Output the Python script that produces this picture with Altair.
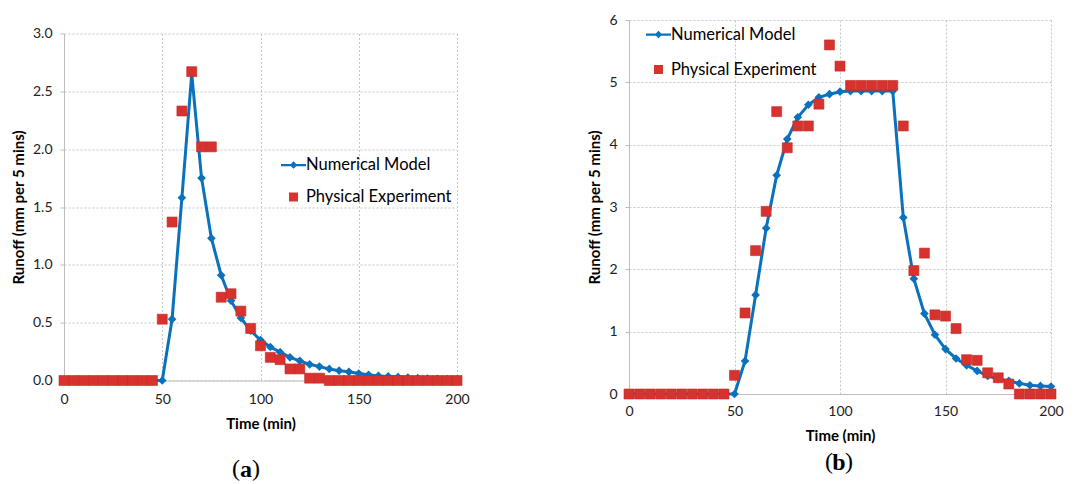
import altair as alt
import pandas as pd

# ---------------- data ----------------
time_min = list(range(0, 205, 5))

model_a = [0] * 11 + [0.53, 1.58, 2.65, 1.75, 1.23, 0.91, 0.69, 0.54, 0.43, 0.35,
                      0.29, 0.245, 0.20, 0.17, 0.14, 0.12, 0.10, 0.085, 0.075, 0.06,
                      0.05, 0.04, 0.035, 0.03, 0.025, 0.02, 0.017, 0.015, 0.012, 0.01]
exp_a = [0] * 10 + [0.53, 1.37, 2.33, 2.67, 2.02, 2.02, 0.72, 0.75, 0.60, 0.45,
                    0.30, 0.20, 0.18, 0.10, 0.10, 0.02, 0.02] + [0] * 14

model_b = [0] * 11 + [0.53, 1.59, 2.66, 3.51, 4.09, 4.44, 4.64, 4.76, 4.81, 4.85,
                      4.86, 4.86, 4.86, 4.86, 4.86, 2.83, 1.85, 1.29, 0.95, 0.72,
                      0.57, 0.46, 0.37, 0.29, 0.24, 0.21, 0.17, 0.14, 0.13, 0.12]
exp_b = [0] * 10 + [0.30, 1.30, 2.30, 2.93, 4.53, 3.95, 4.30, 4.30, 4.65, 5.60,
                    5.26, 4.95, 4.95, 4.95, 4.95, 4.95, 4.30, 1.98, 2.26, 1.27,
                    1.25, 1.05, 0.55, 0.54, 0.34, 0.26, 0.16] + [0] * 4

series_names = ["Numerical Model", "Physical Experiment"]
x_ticks = [0, 50, 100, 150, 200]
y_ticks_a = [0, 0.5, 1.0, 1.5, 2.0, 2.5, 3.0]
y_ticks_b = [0, 1, 2, 3, 4, 5, 6]
captions = ["a", "b"]

BLUE = "#0a72bd"
RED = "#d8322e"
FONT = "Lato"

# legend symbol: line with diamond, and a smaller square, in unit box
LINE_DIAMOND = "M-1,-0.09L1,-0.09L1,0.09L-1,0.09Z M0,-0.3L0.3,0L0,0.3L-0.3,0Z"
SMALL_SQUARE = "M-0.36,-0.36L0.36,-0.36L0.36,0.36L-0.36,0.36Z"


def panel(model, exp, y_ticks, y_fmt, w, h, leg_x, leg_y, leg_row, cap, cap_x, cap_y,
          x_lab_pad, x_title_pad, y_title_pad):
    dm = pd.DataFrame({"Time": time_min, "Runoff": model})
    de = pd.DataFrame({"Time": time_min, "Runoff": exp})
    x = alt.X("Time:Q", scale=alt.Scale(domain=[0, 200], nice=False),
              axis=alt.Axis(values=x_ticks, title="Time (min)", ticks=False,
                            labelPadding=x_lab_pad, titlePadding=x_title_pad,
                            labelFlush=False))
    y = alt.Y("Runoff:Q", scale=alt.Scale(domain=[0, y_ticks[-1]], nice=False),
              axis=alt.Axis(values=y_ticks, format=y_fmt, title="Runoff (mm per 5 mins)",
                            tickSize=4, labelPadding=8, titlePadding=y_title_pad,
                            labelFlush=False))
    line = alt.Chart(dm).mark_line(color=BLUE, strokeWidth=3).encode(x=x, y=y)
    dia = alt.Chart(dm).mark_point(shape="diamond", filled=True, size=75, color=BLUE,
                                   opacity=1).encode(x=x, y=y)
    sq = alt.Chart(de).mark_square(size=100, color=RED, opacity=1,
                                   stroke="#c22a26", strokeWidth=0.6).encode(x=x, y=y)
    dleg = pd.DataFrame({"series": series_names})
    leg = alt.Chart(dleg).mark_point(filled=True, opacity=1, clip=True, size=10).encode(
        x=alt.value(-60), y=alt.value(-60),
        color=alt.Color("series:N", scale=alt.Scale(domain=series_names, range=[BLUE, RED]),
                        legend=alt.Legend(title=None, orient="none", legendX=leg_x,
                                          legendY=leg_y, symbolSize=625,
                                          symbolOpacity=1, symbolStrokeWidth=0,
                                          labelFont=FONT, labelFontSize=16.5,
                                          labelColor="black", labelOffset=0,
                                          rowPadding=leg_row, padding=0)),
        shape=alt.Shape("series:N", scale=alt.Scale(domain=series_names,
                                                    range=[LINE_DIAMOND, SMALL_SQUARE]),
                        legend=alt.Legend(title=None)),
    )
    dcap = pd.DataFrame({"cap": [cap]})
    c_mid = alt.Chart(dcap).mark_text(font="Liberation Serif", fontSize=24, fontWeight="bold",
                                      color="black").encode(
        x=alt.value(cap_x), y=alt.value(cap_y), text="cap:N")
    c_l = alt.Chart(dcap).mark_text(font="Liberation Serif", fontSize=24, color="black",
                                    align="right").encode(
        x=alt.value(cap_x - 6), y=alt.value(cap_y - 1), text=alt.value("("))
    c_r = alt.Chart(dcap).mark_text(font="Liberation Serif", fontSize=24, color="black",
                                    align="left").encode(
        x=alt.value(cap_x + 6), y=alt.value(cap_y - 1), text=alt.value(")"))
    return alt.layer(line, dia, sq, leg, c_mid, c_l, c_r).properties(width=w, height=h)


pa = panel(model_a, exp_a, y_ticks_a, ".1f", 393, 347, 217, 119, 11, captions[0], 182, 436,
           12, 10, 6)
pb = panel(model_b, exp_b, y_ticks_b, "d", 422, 374, 17, 2, 14, captions[1], 210, 443,
           10, 10, 6)

chart = alt.hconcat(pa, pb, spacing=172, center=True, bounds="flush").resolve_scale(
    color="independent", shape="independent"
).resolve_legend(color="independent", shape="independent").configure(
    padding={"left": 3, "top": 5, "right": 5, "bottom": 5}
).configure_axis(
    labelFont=FONT, labelFontSize=14, labelColor="#222222",
    titleFont=FONT, titleFontSize=15, titleFontWeight="bold", titleColor="black",
    gridColor="#c6c6c6", gridDash=[2, 2], gridWidth=1,
    domainColor="#bdbdbd", tickColor="#bdbdbd",
).configure_view(stroke=None)

chart.save("out.html", embed_options={"renderer": "svg", "actions": False})
